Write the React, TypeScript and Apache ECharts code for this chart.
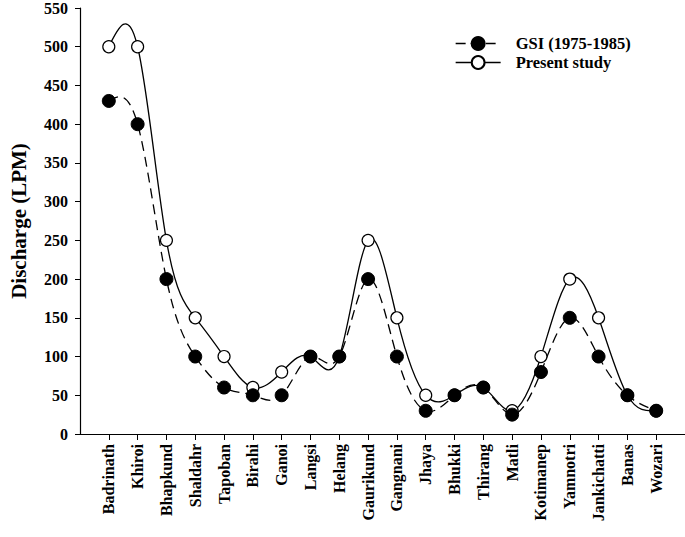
import React, { useEffect, useRef } from "react";
import * as echarts from "echarts";

const categories = [
  "Badrinath", "Khiroi", "Bhapkund", "Shaldahr", "Tapoban", "Birahi", "Ganoi",
  "Langsi", "Helang", "Gaurikund", "Gangnani", "Jhaya", "Bhukki", "Thirang",
  "Matli", "Kotimanep", "Yamnotri", "Jankichatti", "Banas", "Wozari",
];
const gsiValues = [430, 400, 200, 100, 60, 50, 50, 100, 100, 200, 100, 30, 50, 60, 25, 80, 150, 100, 50, 30];
const presentValues = [500, 500, 250, 150, 100, 60, 80, 100, 100, 250, 150, 50, 50, 60, 30, 100, 200, 150, 50, 30];
const yTicks = [0, 50, 100, 150, 200, 250, 300, 350, 400, 450, 500, 550];

const FONT = "'Liberation Serif', 'Times New Roman', serif";

// Natural cubic spline through pixel points -> SVG path with bezier segments
function splinePath(pts: number[][]): string {
  const n = pts.length;
  if (n < 2) return "";
  const xs = pts.map((p) => p[0]);
  const ys = pts.map((p) => p[1]);
  const h: number[] = [];
  for (let i = 0; i < n - 1; i++) h.push(xs[i + 1] - xs[i]);
  const a = new Array(n).fill(0);
  const b = new Array(n).fill(0);
  const c = new Array(n).fill(0);
  const d = new Array(n).fill(0);
  b[0] = 1; b[n - 1] = 1;
  for (let i = 1; i < n - 1; i++) {
    a[i] = h[i - 1];
    b[i] = 2 * (h[i - 1] + h[i]);
    c[i] = h[i];
    d[i] = 6 * ((ys[i + 1] - ys[i]) / h[i] - (ys[i] - ys[i - 1]) / h[i - 1]);
  }
  const cp = new Array(n).fill(0);
  const dp = new Array(n).fill(0);
  cp[0] = c[0] / b[0];
  dp[0] = d[0] / b[0];
  for (let i = 1; i < n; i++) {
    const m = b[i] - a[i] * cp[i - 1];
    cp[i] = c[i] / m;
    dp[i] = (d[i] - a[i] * dp[i - 1]) / m;
  }
  const M = new Array(n).fill(0);
  M[n - 1] = dp[n - 1];
  for (let i = n - 2; i >= 0; i--) M[i] = dp[i] - cp[i] * M[i + 1];
  const der: number[] = [];
  for (let i = 0; i < n - 1; i++) {
    der.push((ys[i + 1] - ys[i]) / h[i] - (h[i] * (2 * M[i] + M[i + 1])) / 6);
  }
  const last = n - 1;
  der.push((ys[last] - ys[last - 1]) / h[last - 1] + (h[last - 1] * (M[last - 1] + 2 * M[last])) / 6);
  let path = `M${xs[0]},${ys[0]}`;
  for (let i = 0; i < n - 1; i++) {
    const t = h[i] / 3;
    path += ` C${xs[i] + t},${ys[i] + der[i] * t} ${xs[i + 1] - t},${ys[i + 1] - der[i + 1] * t} ${xs[i + 1]},${ys[i + 1]}`;
  }
  return path;
}

function curveSeries(values: number[], dash: number[] | null, z: number) {
  return {
    type: "custom",
    silent: true,
    z,
    data: values.map((v, i) => [i + 1, v]),
    encode: { x: 0, y: 1 },
    renderItem: (params: any, api: any) => {
      if (params.dataIndex !== 0) return null;
      const pts = values.map((v, i) => api.coord([i + 1, v]));
      return {
        type: "path",
        shape: { pathData: splinePath(pts) },
        style: {
          fill: "none",
          stroke: "#000",
          lineWidth: 1.3,
          lineDash: dash || undefined,
        },
      };
    },
  };
}

export default function App() {
  const ref = useRef<HTMLDivElement>(null);
  useEffect(() => {
    if (!ref.current) return;
    const chart = echarts.init(ref.current, null, { renderer: "svg" });
    const xCats = ["", ...categories, ""];
    const lastIdx = xCats.length - 1;
    const pad = (arr: number[]) => [null, ...arr, null];
    chart.setOption({
      animation: false,
      backgroundColor: "#fff",
      grid: { left: 73, top: 6, right: 0, bottom: 103, containLabel: false },
      legend: {
        left: 450,
        top: 30,
        orient: "vertical",
        itemGap: 2,
        itemWidth: 45,
        itemHeight: 16,
        textStyle: {
          fontFamily: FONT,
          fontWeight: "bold",
          fontSize: 16.5,
          color: "#000",
          padding: [0, 0, 0, 10],
        },
        data: [
          {
            name: "GSI (1975-1985)",
            lineStyle: { color: "#000", width: 1.3, type: [10, 5], opacity: 1 },
          },
          {
            name: "Present study",
            lineStyle: { color: "#000", width: 1.3, type: "solid", opacity: 1 },
          },
        ],
      },
      xAxis: {
        type: "category",
        data: xCats,
        boundaryGap: false,
        max: lastIdx,
        axisLine: { lineStyle: { color: "#000", width: 1.2 } },
        axisTick: {
          show: true,
          length: 6,
          lineStyle: { color: "#000" },
          interval: (i: number) => i > 0 && i < lastIdx,
        },
        axisLabel: {
          interval: 0,
          rotate: 90,
          margin: 10,
          fontFamily: FONT,
          fontWeight: "bold",
          fontSize: 16,
          color: "#000",
        },
        splitLine: { show: false },
      },
      yAxis: {
        type: "value",
        min: 0,
        max: 550,
        interval: 50,
        name: "Discharge (LPM)",
        nameLocation: "middle",
        nameGap: 51,
        nameTextStyle: { fontFamily: FONT, fontWeight: "bold", fontSize: 21, color: "#000" },
        axisLine: { show: true, lineStyle: { color: "#000", width: 1.2 } },
        axisTick: { show: true, length: 5, lineStyle: { color: "#000" } },
        axisLabel: {
          fontFamily: FONT,
          fontWeight: "bold",
          fontSize: 16,
          color: "#000",
          margin: 12,
          formatter: (v: number) => (yTicks.includes(v) ? String(v) : ""),
        },
        splitLine: { show: false },
      },
      series: [
        curveSeries(presentValues, null, 1),
        curveSeries(gsiValues, [10, 6], 1),
        {
          name: "Present study",
          type: "line",
          data: pad(presentValues),
          symbol: "circle",
          symbolSize: 12,
          z: 2,
          lineStyle: { opacity: 0, width: 0 },
          itemStyle: { color: "#fff", borderColor: "#000", borderWidth: 1.2 },
        },
        {
          name: "GSI (1975-1985)",
          type: "line",
          data: pad(gsiValues),
          symbol: "circle",
          symbolSize: 13,
          z: 3,
          lineStyle: { opacity: 0, width: 0 },
          itemStyle: { color: "#000", borderColor: "#000", borderWidth: 1 },
        },
      ],
    });
    return () => chart.dispose();
  }, []);
  return <div ref={ref} style={{ width: 685, height: 537, position: "absolute", left: 0, top: 0 }} />;
}
